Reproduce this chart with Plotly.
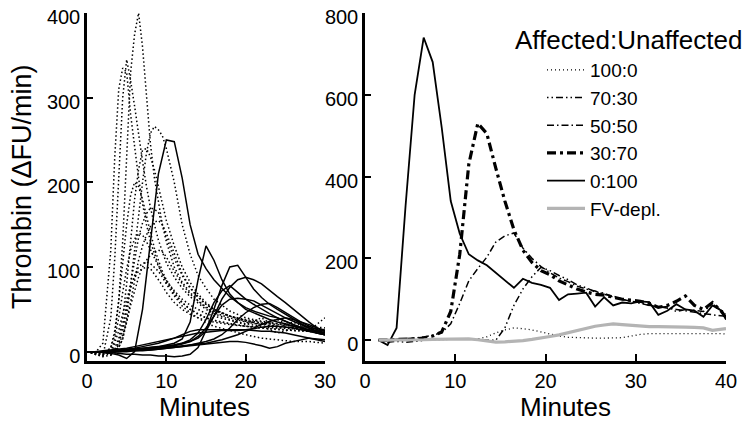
import plotly.graph_objects as go

# ---------------- Left panel: individual patients ----------------
T_AFF = [0, 1, 2, 3, 3.5, 4, 4.5, 5, 5.5, 6, 6.5, 7, 7.5, 8, 8.5, 9, 9.5, 10,
         11, 12, 13, 14, 15, 16, 18, 20, 22, 24, 26, 28, 30]

AFFECTED = [
    [0, -2, -4, 5, 20, 60, 130, 230, 330, 375, 400, 360, 300, 245, 205, 175, 150, 130, 100, 82, 70, 60, 52, 46, 40, 35, 32, 38, 28, 30, 24],
    [0, -3, -5, 40, 110, 210, 300, 345, 320, 290, 255, 225, 195, 170, 150, 132, 118, 105, 88, 75, 65, 57, 50, 45, 38, 33, 30, 22, 27, 25, 22],
    [0, -2, 10, 120, 230, 310, 335, 330, 280, 240, 205, 175, 150, 130, 115, 102, 92, 84, 72, 62, 55, 50, 45, 42, 37, 32, 40, 28, 35, 25, 40],
    [0, 0, -3, 0, 0, 5, 15, 40, 80, 120, 165, 200, 235, 258, 266, 262, 255, 240, 200, 150, 115, 90, 75, 62, 48, 40, 36, 33, 30, 28, 26],
    [0, 0, -2, 0, 5, 15, 40, 80, 130, 180, 215, 238, 240, 230, 215, 195, 175, 155, 125, 100, 82, 68, 58, 50, 42, 36, 32, 30, 28, 26, 24],
    [0, -3, -5, 5, 25, 60, 105, 150, 185, 200, 195, 180, 160, 140, 122, 108, 95, 85, 70, 58, 50, 44, 40, 37, 33, 30, 28, 27, 25, 24, 22],
    [0, 0, -2, -4, 0, 10, 25, 50, 80, 110, 135, 152, 163, 170, 168, 165, 150, 135, 110, 90, 75, 64, 56, 50, 42, 36, 33, 30, 28, 26, 25],
    [0, 0, 0, -3, -2, 5, 15, 35, 60, 85, 108, 125, 138, 148, 153, 155, 150, 140, 115, 92, 76, 65, 56, 50, 42, 37, 34, 32, 30, 28, 26],
    [0, -2, -3, 0, 15, 40, 70, 98, 120, 133, 140, 138, 130, 120, 110, 100, 90, 82, 68, 58, 50, 45, 40, 37, 33, 30, 28, 26, 25, 24, 22],
    [0, 0, 0, 0, 2, 8, 20, 35, 55, 72, 88, 100, 108, 114, 118, 120, 118, 112, 95, 80, 68, 60, 53, 48, 42, 38, 35, 33, 31, 30, 28],
    [0, -2, -3, 0, 10, 25, 45, 62, 78, 88, 95, 98, 100, 98, 92, 85, 78, 70, 58, 50, 44, 40, 37, 35, 32, 30, 29, 28, 27, 26, 25],
    [0, -3, -6, -4, 2, 12, 30, 55, 75, 90, 100, 104, 106, 104, 100, 95, 88, 80, 66, 54, 46, 40, 34, 30, 25, 20, 16, 14, 12, 12, 10],
]

T_UNAFF = list(range(0, 31))

UNAFFECTED = [
    [0, 0, -1, -2, -4, -8, 0, 50, 130, 210, 250, 248, 205, 150, 115, 98, 85, 75, 65, 58, 52, 48, 45, 42, 40, 36, 32, 28, 25, 22, 20],
    [0, 0, 0, 1, 2, 2, 3, 4, 5, 6, 8, 10, 15, 35, 85, 125, 108, 85, 68, 58, 50, 46, 42, 38, 35, 33, 30, 28, 26, 24, 22],
    [0, 0, 0, -1, -2, -3, -3, -4, -4, -5, -5, -6, -5, -3, 5, 25, 50, 78, 100, 102, 88, 74, 64, 56, 50, 44, 38, 33, 28, 24, 20],
    [0, 0, 0, 1, 1, 2, 3, 4, 5, 6, 7, 8, 10, 12, 16, 24, 42, 62, 76, 85, 88, 85, 80, 72, 65, 58, 50, 42, 35, 28, 24],
    [0, 0, 0, 0, 1, 2, 3, 3, 4, 5, 6, 8, 10, 14, 22, 38, 58, 72, 78, 70, 62, 56, 50, 45, 40, 36, 32, 28, 25, 22, 20],
    [0, 0, 0, 1, 1, 2, 2, 3, 4, 5, 6, 7, 9, 12, 18, 28, 42, 55, 62, 63, 62, 60, 55, 50, 45, 40, 36, 32, 28, 24, 22],
    [0, 0, 0, 0, 0, 1, 1, 2, 2, 3, 4, 5, 6, 8, 10, 12, 15, 20, 28, 38, 46, 52, 56, 57, 52, 46, 40, 35, 30, 26, 22],
    [0, 0, 0, 0, 1, 1, 2, 2, 3, 4, 5, 6, 7, 8, 9, 10, 12, 14, 17, 20, 24, 28, 32, 36, 38, 40, 38, 35, 32, 28, 25],
    [0, 0, 1, 2, 3, 4, 6, 8, 10, 12, 14, 16, 18, 20, 22, 23, 24, 25, 25, 25, 26, 27, 29, 30, 30, 29, 28, 26, 24, 22, 20],
    [0, 0, 0, 1, 2, 3, 4, 6, 8, 10, 13, 16, 20, 24, 26, 26, 26, 26, 26, 26, 26, 25, 24, 24, 23, 22, 20, 18, 16, 14, 12],
    [0, 0, 0, 0, 0, 0, 1, 1, 2, 3, 4, 5, 6, 7, 8, 9, 10, 11, 12, 12, 11, 9, 7, 4, 6, 10, 12, 14, 16, 15, 14],
]

# ---------------- Right panel: mixing experiment ----------------
T_MIX = [1.5, 2.5, 3.5, 4.5, 5.5, 6.5, 7.5, 8.5, 9.5, 10.5, 11.5, 12.5, 13.5, 14.5,
         15.5, 16.5, 17.5, 18.5, 19.5, 20.5, 21.5, 22.5, 23.5, 24.5, 25.5, 26.5,
         27.5, 28.5, 29.5, 30.5, 31.5, 32.5, 33.5, 34.5, 35.5, 36.5, 37.5, 38.5, 39.5, 40.0]

MIX_LABELS = ["100:0", "70:30", "50:50", "30:70", "0:100", "FV-depl."]

MIX_100_0 = [0, 0, 0, 0, 0, 1, 1, 1, 2, 2, 2, 3, 8, 18, 25, 30, 28, 25, 20, 15, 10, 7, 6, 5,
             5, 5, 5, 6, 10, 14, 16, 16, 17, 17, 17, 17, 17, 16, 16, 15]
MIX_70_30 = [0, -5, -3, -5, -3, 0, 2, 3, 3, 3, 2, 2, 0, 0, 30, 85, 125, 155, 178, 170, 158,
             148, 135, 128, 118, 115, 105, 100, 95, 90, 85, 80, 82, 70, 75, 72, 70, 88, 72, 65]
MIX_50_50 = [0, 0, 2, 3, 5, 8, 12, 18, 40, 90, 145, 175, 203, 240, 255, 262, 225, 200, 180,
             165, 152, 143, 132, 125, 120, 112, 108, 100, 95, 92, 85, 82, 78, 75, 72, 68, 65, 62, 60, 58]
MIX_30_70 = [0, 0, 2, 2, 3, 5, 10, 20, 70, 210, 430, 530, 505, 420, 340, 270, 220, 190, 170,
             160, 145, 135, 125, 118, 112, 110, 105, 100, 98, 95, 90, 80, 85, 95, 108, 85, 75, 92, 70, 55]
MIX_0_100 = [0, -12, 30, 330, 600, 740, 680, 520, 340, 260, 210, 195, 183, 165, 145, 128, 150,
             140, 135, 128, 98, 112, 114, 116, 82, 105, 85, 92, 90, 95, 93, 62, 72, 88, 75, 72, 57, 85, 72, 50]
MIX_FV = [0, 0, 1, 0, 1, 1, 2, 2, 3, 3, 3, 1, -2, -5, -4, -3, -1, 2, 5, 9, 13, 18, 24, 30, 34,
          37, 40, 38, 36, 34, 33, 33, 33, 32, 32, 31, 30, 24, 27, 28]

MIX_SERIES = [MIX_100_0, MIX_70_30, MIX_50_50, MIX_30_70, MIX_0_100, MIX_FV]
MIX_STYLES = [
    dict(color="black", width=1.3, dash="1px,3px"),
    dict(color="black", width=1.5, dash="1.5px,3px,1.5px,3px,7px,3px"),
    dict(color="black", width=1.5, dash="7px,3px,1.5px,3px"),
    dict(color="black", width=3.2, dash="9px,4px,3px,4px"),
    dict(color="black", width=1.8, dash="solid"),
    dict(color="#b4b4b4", width=3.2, dash="solid"),
]

FONT = "Liberation Sans, Arial, Helvetica, sans-serif"

fig = go.Figure()

for ys in AFFECTED:
    fig.add_trace(go.Scatter(x=T_AFF, y=ys, mode="lines", showlegend=False,
                             line=dict(color="black", width=1.5, dash="1.5px,2.5px"),
                             xaxis="x", yaxis="y", hoverinfo="skip"))
for ys in UNAFFECTED:
    fig.add_trace(go.Scatter(x=T_UNAFF, y=ys, mode="lines", showlegend=False,
                             line=dict(color="black", width=1.5),
                             xaxis="x", yaxis="y", hoverinfo="skip"))

for name, ys, st in zip(MIX_LABELS, MIX_SERIES, MIX_STYLES):
    fig.add_trace(go.Scatter(x=T_MIX, y=ys, mode="lines", name=name,
                             line=st, xaxis="x2", yaxis="y2"))

# The page body adds an 8px margin, so the figure is sized to the visible area.
OFF = 8
W, H = 753 - OFF, 421 - OFF
PLOT_TOP, PLOT_BOTTOM = 13 - OFF, 361 - OFF
PH = PLOT_BOTTOM - PLOT_TOP


def px(xr):
    return (xr - OFF) / W


def py(yr):
    return (PLOT_BOTTOM - (yr - OFF)) / PH


axis_common = dict(showgrid=False, zeroline=False, showline=True, linecolor="black",
                   linewidth=2.5, ticks="inside", tickcolor="black", tickwidth=2,
                   automargin=False, ticklabeloverflow="allow",
                   tickfont=dict(family=FONT, size=20, color="black"))

fig.update_layout(
    width=W, height=H,
    margin=dict(l=0, r=0, t=PLOT_TOP, b=H - PLOT_BOTTOM),
    paper_bgcolor="white", plot_bgcolor="white",
    font=dict(family=FONT, color="black"),
    xaxis=dict(domain=[px(87), px(325)], range=[0, 30], tickvals=[0, 10, 20, 30],
               ticklen=7, anchor="y", **axis_common),
    yaxis=dict(domain=[0, 1], range=[-11, 400], tickvals=[0, 100, 200, 300, 400],
               ticklen=6, anchor="x", ticklabelshift=4, **axis_common),
    xaxis2=dict(domain=[px(365), px(726)], range=[0, 40], tickvals=[0, 10, 20, 30, 40],
                ticklen=7, anchor="y2", **axis_common),
    yaxis2=dict(domain=[0, 1], range=[-51, 800], tickvals=[0, 200, 400, 600, 800],
                ticklen=6, anchor="x2", ticklabelshift=4, **axis_common),
    legend=dict(x=px(542), y=py(51), xanchor="left", yanchor="top",
                bgcolor="rgba(0,0,0,0)", borderwidth=0, tracegroupgap=0, itemwidth=38,
                font=dict(family=FONT, size=19, color="black")),
    annotations=[
        dict(text="Minutes", x=px(204), y=py(407), xref="paper", yref="paper",
             showarrow=False, xanchor="center", yanchor="middle",
             font=dict(family=FONT, size=26, color="black")),
        dict(text="Minutes", x=px(565), y=py(407), xref="paper", yref="paper",
             showarrow=False, xanchor="center", yanchor="middle",
             font=dict(family=FONT, size=26, color="black")),
        dict(text="Thrombin (ΔFU/min)", x=px(22), y=py(187), xref="paper", yref="paper",
             showarrow=False, xanchor="center", yanchor="middle", textangle=-90,
             font=dict(family=FONT, size=27, color="black")),
        dict(text="Affected:Unaffected", x=px(513), y=py(40), xref="paper", yref="paper",
             showarrow=False, xanchor="left", yanchor="middle",
             font=dict(family=FONT, size=26, color="black")),
    ],
)

fig.write_html("out.html")
